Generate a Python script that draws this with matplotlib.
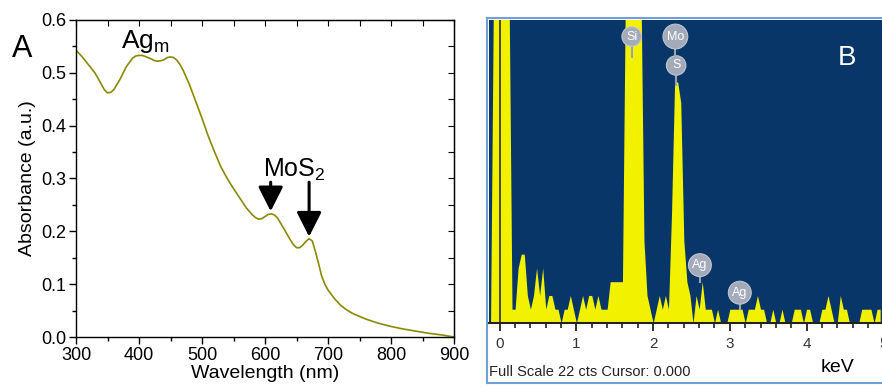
import numpy as np
import matplotlib
matplotlib.use("Agg")
import matplotlib.pyplot as plt
from matplotlib.ticker import MultipleLocator

plt.rcParams['font.family'] = ['Liberation Sans', 'DejaVu Sans']
plt.rcParams['mathtext.fontset'] = 'custom'
plt.rcParams['mathtext.rm'] = 'Liberation Sans'

# ---------------- Panel A data (UV-vis absorbance) ----------------
wavelength = [300, 310, 320, 330, 340, 345, 350, 355, 360, 370, 380, 390, 395, 400,
              405, 410, 420, 425, 430, 435, 440, 445, 450, 455, 460, 465, 470, 480,
              490, 500, 510, 520, 530, 540, 550, 560, 570, 580, 585, 590, 595, 600,
              605, 610, 615, 620, 630, 640, 645, 650, 655, 660, 665, 670, 675, 680,
              685, 690, 695, 700, 710, 720, 730, 740, 750, 760, 770, 780, 790, 800,
              820, 840, 860, 880, 900]
absorbance = [0.543, 0.530, 0.515, 0.500, 0.479, 0.468, 0.462, 0.463, 0.468, 0.488,
              0.512, 0.528, 0.532, 0.533, 0.533, 0.531, 0.526, 0.523, 0.522, 0.523,
              0.525, 0.529, 0.530, 0.529, 0.524, 0.516, 0.505, 0.478, 0.446, 0.414,
              0.380, 0.350, 0.322, 0.300, 0.281, 0.263, 0.245, 0.231, 0.226, 0.223,
              0.224, 0.228, 0.232, 0.233, 0.231, 0.225, 0.205, 0.184, 0.175, 0.169,
              0.169, 0.174, 0.181, 0.186, 0.182, 0.162, 0.139, 0.115, 0.100, 0.089,
              0.073, 0.060, 0.051, 0.044, 0.039, 0.034, 0.030, 0.026, 0.023, 0.020,
              0.015, 0.011, 0.007, 0.004, 0.000]
arrow_wavelengths = [609, 670]
arrow_tips = [0.238, 0.190]

# ---------------- Panel B data (EDS spectrum) ----------------
eds_counts = [0, 25, 25, 25, 25, 25, 25, 1, 1, 4, 5, 5, 2, 1, 2, 4,
              2, 4, 1, 2, 2, 1, 1, 0, 1, 1, 2, 1, 0, 1, 2, 1,
              2, 2, 1, 2, 1, 1, 1, 3, 3, 3, 3, 3, 25, 25, 25, 25,
              25, 25, 6, 2, 1, 0, 1, 2, 1, 2, 1, 8, 17.5, 17.5, 16, 6,
              3, 2, 0, 2, 1, 3, 1, 1, 1, 0, 1, 0, 0, 0, 1, 1,
              1, 1, 1, 0, 1, 1, 1, 2, 1, 1, 0, 0, 1, 0, 0, 1,
              0, 0, 0, 1, 1, 1, 0, 1, 1, 0, 0, 0, 1, 1, 2, 1,
              0, 0, 2, 1, 1, 0, 0, 0, 0, 1, 1, 1, 1, 0, 1, 1]
eds_energy = np.round(-0.12 + 0.04 * np.arange(len(eds_counts)), 2)
element_labels = ['Si', 'Mo', 'S', 'Ag', 'Ag']
element_x = [1.72, 2.29, 2.30, 2.61, 3.13]
element_y = [20.8, 20.8, 18.7, 4.2, 2.2]
element_stem_bottom = [19.3, 19.5, 17.3, 3.0, 1.0]
eds_ticks = [0, 1, 2, 3, 4, 5]

W, H = 882, 392
fig = plt.figure(figsize=(W / 100, H / 100), dpi=100)

def fbox(x0, y0, x1, y1):
    return [x0 / W, 1 - y1 / H, (x1 - x0) / W, (y1 - y0) / H]

# ================= Panel A =================
ax = fig.add_axes(fbox(76, 20, 454, 337))
ax.plot(wavelength, absorbance, color='#8a8a00', lw=1.2)
ax.set_xlim(300, 900)
ax.set_ylim(0, 0.6)
ax.xaxis.set_major_locator(MultipleLocator(100))
ax.xaxis.set_minor_locator(MultipleLocator(50))
ax.yaxis.set_major_locator(MultipleLocator(0.1))
ax.yaxis.set_minor_locator(MultipleLocator(0.05))
ax.yaxis.set_major_formatter(matplotlib.ticker.FormatStrFormatter('%.1f'))
ax.tick_params(which='major', direction='out', length=5, width=1, labelsize=13, pad=2)
ax.tick_params(which='minor', direction='out', length=3, width=1)
for s in ax.spines.values():
    s.set_linewidth(1.0)
ax.set_xlabel('Wavelength (nm)', fontsize=14, labelpad=1)
ax.set_ylabel('Absorbance (a.u.)', fontsize=14, labelpad=4)

top = ax.secondary_xaxis('top')
top.xaxis.set_major_locator(MultipleLocator(50))
top.tick_params(direction='in', length=4, labeltop=False)
right = ax.secondary_yaxis('right')
right.yaxis.set_major_locator(MultipleLocator(0.05))
right.tick_params(direction='in', length=4, labelright=False)

ax.text(371, 0.547, r'Ag$_\mathregular{m}$', fontsize=19, ha='left', va='baseline')
ax.text(597, 0.303, r'MoS$_\mathregular{2}$', fontsize=18, ha='left', va='baseline')
for wl, tip in zip(arrow_wavelengths, arrow_tips):
    ax.annotate('', xy=(wl, tip), xytext=(wl, 0.293),
                arrowprops=dict(arrowstyle='-|>,head_width=0.38,head_length=0.75',
                                lw=2.2, color='black', mutation_scale=20,
                                shrinkA=0, shrinkB=0))
fig.text(12 / W, 1 - 57 / H, 'A', fontsize=22, ha='left', va='baseline')

# ================= Panel B =================
frame = fig.add_axes(fbox(487, 18, 884, 383))
frame.set_xticks([]); frame.set_yticks([])
frame.set_facecolor('white')
for s in frame.spines.values():
    s.set_color('#6f9fd6'); s.set_linewidth(1.5)

bx = fig.add_axes(fbox(489, 20, 884, 323))
bx.set_facecolor('#083668')
bx.fill_between(eds_energy, eds_counts, 0, color='#f2f200', lw=0)
bx.axvline(0, color='#3c3c28', lw=1.3)
bx.set_xlim(-0.14, 5.01)
bx.set_ylim(0, 22)
bx.set_yticks([])
for k in ['top', 'right', 'left']:
    bx.spines[k].set_visible(False)
bx.spines['bottom'].set_color('#222222')
bx.spines['bottom'].set_linewidth(1.5)
bx.set_xticks(eds_ticks)
bx.set_xticklabels([str(t) for t in eds_ticks])
bx.xaxis.set_minor_locator(MultipleLocator(0.2))
bx.tick_params(axis='x', which='major', direction='out', length=6, width=1.3,
               color='#222222', labelsize=11, labelcolor='#333333', pad=4)
bx.tick_params(axis='x', which='minor', direction='out', length=3.5, width=1.2,
               color='#222222')

for lbl, ex, ey, sb in zip(element_labels, element_x, element_y, element_stem_bottom):
    bx.plot([ex, ex], [sb, ey], color='#9aa3b3', lw=1.5, zorder=3)
    bx.text(ex, ey, lbl, fontsize=9, color='white', ha='center', va='center', zorder=4,
            bbox=dict(boxstyle='circle,pad=0.3', fc='#a3abba', ec='#c0c6d0', lw=0.8))

fig.text(838 / W, 1 - 65 / H, 'B', fontsize=20, color='white', ha='left', va='baseline')
fig.text(489 / W, 1 - 376 / H, 'Full Scale 22 cts Cursor: 0.000', fontsize=10.5,
         color='#222222', ha='left', va='baseline')
fig.text(821 / W, 1 - 372 / H, 'keV', fontsize=14, color='black', ha='left', va='baseline')

fig.savefig('out.png', dpi=100)
